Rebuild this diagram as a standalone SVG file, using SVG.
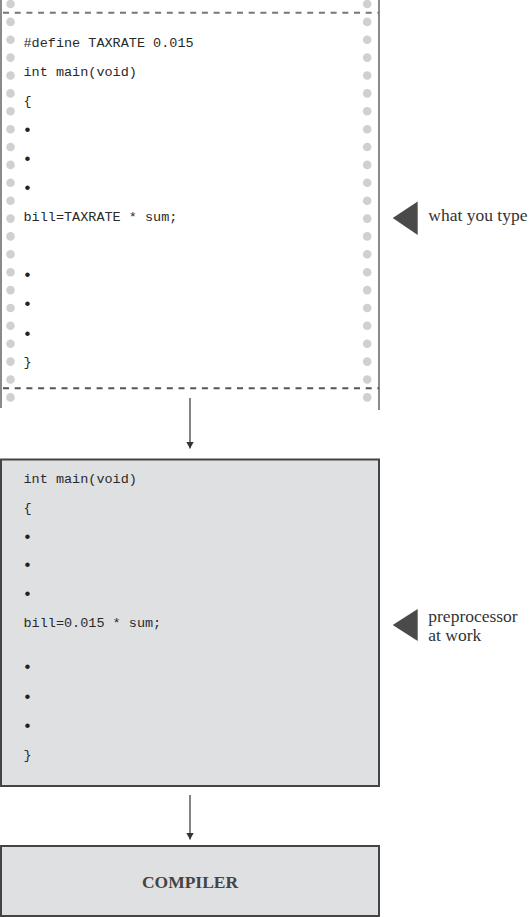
<svg xmlns="http://www.w3.org/2000/svg" width="529" height="917" viewBox="0 0 529 917">
<defs>
<style>
.code{font-family:"Liberation Mono","Courier New",monospace;font-size:13.5px;fill:#2a2a2a}
.bul{font-family:"Liberation Mono","Courier New",monospace;font-size:16.5px;fill:#222}
.lbl{font-family:"Liberation Serif","Times New Roman",serif;font-size:17.5px;fill:#333}
.hole{fill:#cfd0d3}
.box{fill:#dfe0e2;stroke:#444;stroke-width:2}
.dash{stroke:#777;stroke-width:2;stroke-dasharray:6 5.7;fill:none}
.edge{stroke:#8a8a8a;stroke-width:2;fill:none}
.conn{stroke:#333;stroke-width:1.2;fill:none;marker-end:url(#ah)}
.tri{fill:#4a4a4a}
</style>
<marker id="ah" markerWidth="7" markerHeight="8" refX="7" refY="4" orient="auto" markerUnits="userSpaceOnUse">
<path d="M0,0 L7,4 L0,8 Z" fill="#333"/>
</marker>
<circle id="h" r="4.3" class="hole"/>
</defs>

<g id="source">
<line class="edge" x1="1" y1="0" x2="1" y2="408"/>
<line class="edge" x1="379" y1="0" x2="379" y2="410"/>
<line class="dash" x1="3" y1="12.8" x2="379" y2="12.8"/>
<line class="dash" x1="3" y1="388.3" x2="379" y2="388.3" style="stroke:#555"/>
<g id="holes-left">
<use href="#h" x="10.5" y="4"/><use href="#h" x="10.5" y="21.9"/><use href="#h" x="10.5" y="39.8"/><use href="#h" x="10.5" y="57.6"/><use href="#h" x="10.5" y="75.5"/><use href="#h" x="10.5" y="93.4"/><use href="#h" x="10.5" y="111.3"/><use href="#h" x="10.5" y="129.2"/><use href="#h" x="10.5" y="147"/><use href="#h" x="10.5" y="164.9"/><use href="#h" x="10.5" y="182.8"/><use href="#h" x="10.5" y="200.7"/><use href="#h" x="10.5" y="218.6"/><use href="#h" x="10.5" y="236.4"/><use href="#h" x="10.5" y="254.3"/><use href="#h" x="10.5" y="272.2"/><use href="#h" x="10.5" y="290.1"/><use href="#h" x="10.5" y="308"/><use href="#h" x="10.5" y="325.8"/><use href="#h" x="10.5" y="343.7"/><use href="#h" x="10.5" y="361.6"/><use href="#h" x="10.5" y="379.5"/><use href="#h" x="10.5" y="397.4"/>
</g>
<g id="holes-right">
<use href="#h" x="367.2" y="4"/><use href="#h" x="367.2" y="21.9"/><use href="#h" x="367.2" y="39.8"/><use href="#h" x="367.2" y="57.6"/><use href="#h" x="367.2" y="75.5"/><use href="#h" x="367.2" y="93.4"/><use href="#h" x="367.2" y="111.3"/><use href="#h" x="367.2" y="129.2"/><use href="#h" x="367.2" y="147"/><use href="#h" x="367.2" y="164.9"/><use href="#h" x="367.2" y="182.8"/><use href="#h" x="367.2" y="200.7"/><use href="#h" x="367.2" y="218.6"/><use href="#h" x="367.2" y="236.4"/><use href="#h" x="367.2" y="254.3"/><use href="#h" x="367.2" y="272.2"/><use href="#h" x="367.2" y="290.1"/><use href="#h" x="367.2" y="308"/><use href="#h" x="367.2" y="325.8"/><use href="#h" x="367.2" y="343.7"/><use href="#h" x="367.2" y="361.6"/><use href="#h" x="367.2" y="379.5"/><use href="#h" x="367.2" y="397.4"/>
</g>
<text class="code" x="23.5" y="46.7">#define TAXRATE 0.015</text>
<text class="code" x="23.5" y="76.2">int main(void)</text>
<text class="code" x="23.5" y="105">{</text>
<text class="bul" x="22.5" y="135">•</text>
<text class="bul" x="22.5" y="163.7">•</text>
<text class="bul" x="22.5" y="192.7">•</text>
<text class="code" x="23.5" y="221.2">bill=TAXRATE * sum;</text>
<text class="bul" x="22.5" y="280.3">•</text>
<text class="bul" x="22.5" y="309.3">•</text>
<text class="bul" x="22.5" y="338.7">•</text>
<text class="code" x="23.5" y="366">}</text>
</g>

<g id="note-type">
<polygon class="tri" points="392.7,218 417.7,201.5 417.7,235"/>
<text class="lbl" x="428.3" y="221">what you type</text>
</g>

<g id="preprocessed">
<rect class="box" x="1" y="459.5" width="378" height="326.5"/>
<text class="code" x="23.5" y="482.7">int main(void)</text>
<text class="code" x="23.5" y="511.7">{</text>
<text class="bul" x="22.5" y="541.5">•</text>
<text class="bul" x="22.5" y="570.3">•</text>
<text class="bul" x="22.5" y="599.3">•</text>
<text class="code" x="23.5" y="627.2">bill=0.015 * sum;</text>
<text class="bul" x="22.5" y="672">•</text>
<text class="bul" x="22.5" y="701.7">•</text>
<text class="bul" x="22.5" y="730.7">•</text>
<text class="code" x="23.5" y="758.5">}</text>
</g>

<g id="note-pre">
<polygon class="tri" points="392.7,625 417.7,609 417.7,641"/>
<text class="lbl" x="428.3" y="622.3">preprocessor</text>
<text class="lbl" x="428.3" y="640.5">at work</text>
</g>

<g id="compiler">
<rect class="box" x="1" y="846" width="378" height="70"/>
<text x="190" y="887.5" text-anchor="middle" style="font-family:'Liberation Serif','Times New Roman',serif;font-size:17.5px;font-weight:bold;fill:#444">COMPILER</text>
</g>

<g id="connectors">
<line class="conn" x1="190" y1="398" x2="190" y2="448.5"/>
<line class="conn" x1="190" y1="795" x2="190" y2="839.5"/>
</g>
</svg>
